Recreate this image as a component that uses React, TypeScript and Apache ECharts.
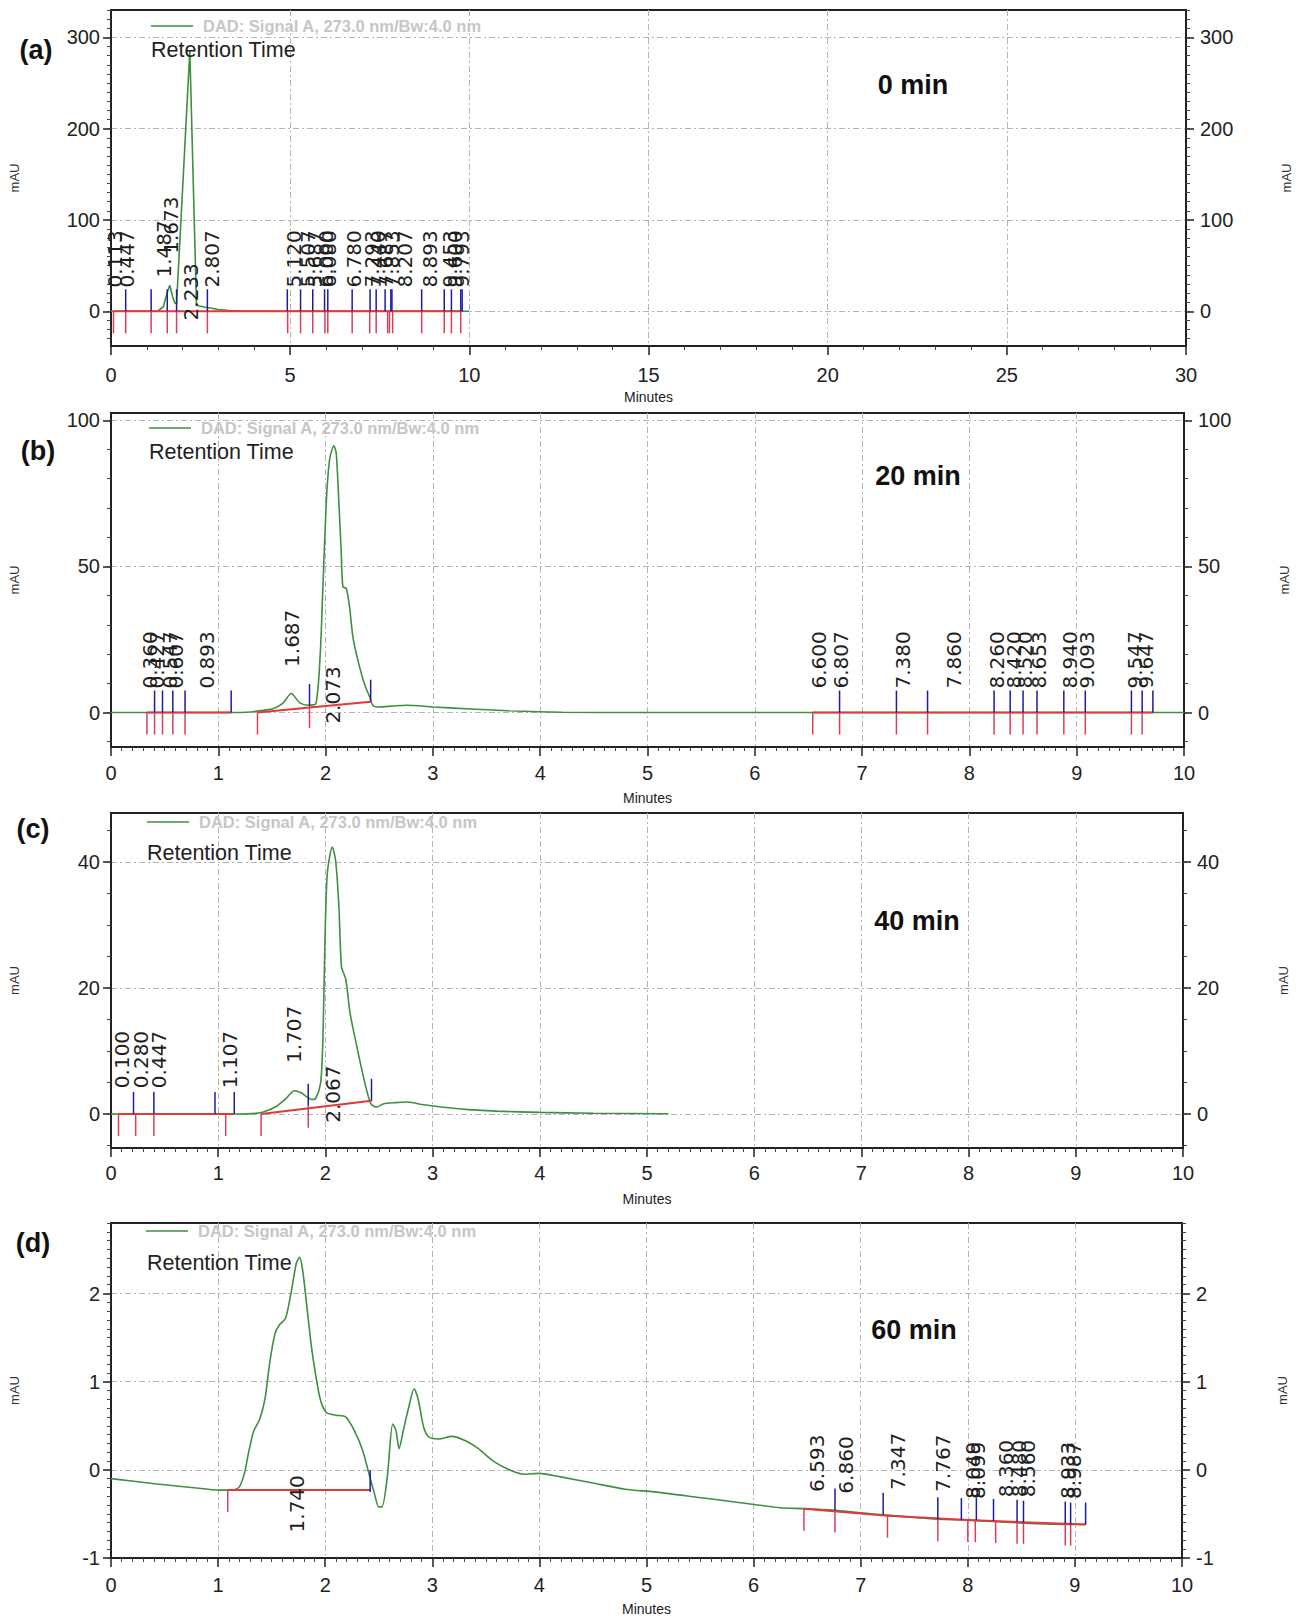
import React, { useEffect, useRef } from "react";
import * as echarts from "echarts";

type P = [number, number];
type Seg = [number, number, number, number];

// ---------- (a) 0 min ----------
const curveA: P[] = [
  [0, 0], [0.5, 0], [1.0, 0], [1.3, 0.3], [1.46, 5], [1.55, 18], [1.64, 28.5], [1.72, 16], [1.78, 9], [1.83, 8.4],
  [2.2, 285], [2.385, 7], [2.44, 6], [2.63, 4.5], [2.81, 3.4], [2.99, 2], [3.3, 0.8], [3.6, 0.2], [4.0, 0], [10.0, 0],
];
const baseA: Seg[] = [[0.07, 0, 9.8, 0]];
const redA: P[] = [
  [0.07, 0], [0.41, 0], [1.12, 0], [1.57, 0], [1.83, 0], [2.69, 0], [4.93, 0], [5.29, 0], [5.63, 0], [5.97, 0], [6.05, 0],
  [6.73, 0], [7.22, 0], [7.4, 0], [7.72, 0], [7.77, 0], [7.86, 0], [8.67, 0], [9.3, 0], [9.5, 0], [9.76, 0],
];
const blueA: P[] = [
  [0.41, 0], [1.12, 0], [1.57, 0], [1.83, 0], [2.69, 0], [4.92, 0], [5.29, 0], [5.63, 0], [5.96, 0], [6.05, 0], [6.73, 0],
  [7.23, 0], [7.4, 0], [7.65, 0], [7.81, 0], [7.84, 0], [8.67, 0], [9.3, 0], [9.5, 0], [9.76, 0], [9.8, 0],
];
const peaksA: string[] = [
  "0.113", "0.447", "1.487", "1.673", "2.233", "2.807", "5.120", "5.507", "5.687", "6.000", "6.080",
  "6.780", "7.293", "7.440", "7.687", "7.853", "8.207", "8.893", "9.453", "9.600", "9.793",
];
const peakBottomA: number[] = [26, 26, 37, 63, -10, 26, 26, 26, 26, 26, 26, 26, 26, 26, 26, 26, 26, 26, 26, 26, 26];

// ---------- (b) 20 min ----------
const curveB: P[] = [
  [0, 0], [0.6, 0], [1.1, 0], [1.3, 0.2], [1.42, 0.8], [1.51, 1.3], [1.6, 3.1], [1.68, 6.5], [1.76, 3.3], [1.84, 2.5],
  [1.91, 3.1], [1.95, 20], [1.975, 43], [2.006, 71.6], [2.037, 86.5], [2.077, 91.3], [2.099, 88.8], [2.124, 71.6],
  [2.146, 54.5], [2.161, 43], [2.192, 42.5], [2.223, 36.2], [2.254, 26], [2.3, 18], [2.36, 10], [2.41, 5.4], [2.44, 2.5],
  [2.5, 1.9], [2.62, 2.2], [2.75, 2.5], [3.0, 1.9], [3.31, 1.3], [3.7, 0.6], [4.2, 0.1], [5.0, 0], [10.0, 0],
];
const baseB: Seg[] = [[0.335, 0, 1.12, 0], [1.365, 0, 2.42, 3.7], [6.54, 0, 9.71, 0]];
const redB: P[] = [
  [0.335, 0], [0.406, 0], [0.48, 0], [0.576, 0], [0.69, 0], [1.365, 0], [1.85, 2.2], [6.54, 0], [6.79, 0], [7.32, 0],
  [7.61, 0], [8.23, 0], [8.38, 0], [8.5, 0], [8.63, 0], [8.88, 0], [9.08, 0], [9.51, 0], [9.61, 0],
];
const blueB: P[] = [
  [0.406, 0], [0.48, 0], [0.576, 0], [0.69, 0], [1.12, 0], [1.85, 2.2], [2.42, 3.7], [6.79, 0], [7.32, 0], [7.61, 0],
  [8.23, 0], [8.38, 0], [8.5, 0], [8.63, 0], [8.88, 0], [9.08, 0], [9.51, 0], [9.61, 0], [9.71, 0],
];
const peaksB: string[] = [
  "0.360", "0.427", "0.547", "0.607", "0.893", "1.687", "2.073", "6.600", "6.807", "7.380", "7.860",
  "8.260", "8.420", "8.520", "8.653", "8.940", "9.093", "9.547", "9.647",
];
const peakBottomB: number[] = [8.2, 8.2, 8.2, 8.2, 8.2, 15.6, -3.8, 8.2, 8.2, 8.2, 8.2, 8.2, 8.2, 8.2, 8.2, 8.2, 8.2, 8.2, 8.2];

// ---------- (c) 40 min ----------
const curveC: P[] = [
  [0, 0], [0.6, 0], [1.2, 0], [1.35, 0.1], [1.42, 0.3], [1.54, 1.2], [1.63, 2.4], [1.71, 3.7], [1.77, 3.4], [1.82, 2.8],
  [1.87, 2.3], [1.91, 2.5], [1.956, 5], [1.977, 12], [1.996, 27.7], [2.018, 38.2], [2.064, 42.4], [2.095, 40.3],
  [2.126, 33], [2.15, 23.4], [2.19, 21.4], [2.23, 16], [2.28, 11.8], [2.34, 7], [2.4, 2.8], [2.43, 1.5], [2.48, 1.1],
  [2.54, 1.6], [2.65, 1.8], [2.77, 1.9], [2.9, 1.5], [3.08, 1.1], [3.33, 0.7], [3.6, 0.45], [4.0, 0.25], [4.5, 0.12], [5.2, 0.05],
];
const baseC: Seg[] = [[0.07, 0, 1.15, 0], [1.4, 0, 2.43, 2.1]];
const redC: P[] = [[0.07, 0], [0.23, 0], [0.4, 0], [1.07, 0], [1.4, 0], [1.84, 1.3]];
const blueC: P[] = [[0.21, 0], [0.4, 0], [0.97, 0], [1.15, 0], [1.84, 1.3], [2.43, 2.1]];
const peaksC: string[] = ["0.100", "0.280", "0.447", "1.107", "1.707", "2.067"];
const peakBottomC: number[] = [4.1, 4.1, 4.1, 4.1, 8.1, -1.4];

// ---------- (d) 60 min ----------
const curveD: P[] = [
  [0, -0.1], [0.43, -0.16], [0.75, -0.2], [1.02, -0.23], [1.14, -0.23], [1.2, -0.19], [1.25, -0.02], [1.28, 0.17],
  [1.33, 0.43], [1.39, 0.58], [1.44, 0.82], [1.48, 1.2], [1.53, 1.54], [1.57, 1.64], [1.63, 1.72], [1.68, 2.0],
  [1.73, 2.34], [1.76, 2.41], [1.79, 2.26], [1.84, 1.73], [1.88, 1.32], [1.95, 0.82], [2.01, 0.65], [2.1, 0.62],
  [2.19, 0.6], [2.27, 0.45], [2.35, 0.22], [2.41, -0.05], [2.46, -0.27], [2.5, -0.42], [2.53, -0.42], [2.58, -0.08],
  [2.63, 0.52], [2.66, 0.45], [2.69, 0.24], [2.73, 0.45], [2.78, 0.71], [2.83, 0.92], [2.87, 0.79], [2.92, 0.48],
  [2.97, 0.37], [3.06, 0.35], [3.18, 0.38], [3.31, 0.33], [3.43, 0.24], [3.58, 0.09], [3.74, -0.01], [3.86, -0.05],
  [4.0, -0.04], [4.2, -0.08], [4.5, -0.15], [4.8, -0.22], [5.07, -0.25], [5.47, -0.31], [5.86, -0.37], [6.25, -0.43],
  [6.47, -0.44], [6.76, -0.46], [7.03, -0.49], [7.21, -0.51], [7.5, -0.54], [7.72, -0.56], [8.0, -0.57], [8.46, -0.6],
  [8.96, -0.62], [9.1, -0.62],
];
const baseD: Seg[] = [[1.09, -0.23, 2.42, -0.23], [6.47, -0.44, 7.25, -0.52], [7.25, -0.52, 8.0, -0.57], [8.0, -0.57, 9.1, -0.62]];
const redD: P[] = [
  [1.09, -0.23], [6.47, -0.44], [6.76, -0.46], [7.25, -0.52], [7.72, -0.56], [8.0, -0.57], [8.07, -0.57],
  [8.26, -0.58], [8.46, -0.59], [8.52, -0.59], [8.91, -0.61], [8.96, -0.61],
];
const blueD: P[] = [
  [2.42, -0.25], [6.76, -0.46], [7.21, -0.51], [7.72, -0.56], [7.94, -0.57], [8.08, -0.57], [8.24, -0.58],
  [8.46, -0.59], [8.52, -0.6], [8.91, -0.61], [8.96, -0.62], [9.1, -0.62],
];
const peaksD: string[] = ["1.740", "6.593", "6.860", "7.347", "7.767", "8.049", "8.099", "8.360", "8.480", "8.560", "8.933", "8.987"];
const peakBottomD: number[] = [-0.71, -0.25, -0.27, -0.23, -0.25, -0.33, -0.33, -0.31, -0.31, -0.31, -0.33, -0.33];

// ---------- axes ----------
const panelTitles = ["(a)", "(b)", "(c)", "(d)"];
const timeLabels = ["0 min", "20 min", "40 min", "60 min"];
const xMaxs = [30, 10, 10, 10];
const xIntervals = [5, 1, 1, 1];
const xMinorSplits = [5, 10, 10, 10];
const yMins = [-38, -11.8, -5.4, -1];
const yMaxs = [330, 102.5, 47.8, 2.8];
const yMajorTicks = [[0, 100, 200, 300], [0, 50, 100], [0, 20, 40], [-1, 0, 1, 2]];
const yMinorSteps = [10, 10, 5, 0.1];
const legendText = "DAD: Signal A, 273.0 nm/Bw:4.0 nm";
const xName = "Minutes";
const yName = "mAU";

const panels = [
  { curve: curveA, base: baseA, red: redA, blue: blueA, peaks: peaksA, bottoms: peakBottomA },
  { curve: curveB, base: baseB, red: redB, blue: blueB, peaks: peaksB, bottoms: peakBottomB },
  { curve: curveC, base: baseC, red: redC, blue: blueC, peaks: peaksC, bottoms: peakBottomC },
  { curve: curveD, base: baseD, red: redD, blue: blueD, peaks: peaksD, bottoms: peakBottomD },
];

// ---------- layout (pixels) ----------
const GRIDS = [
  { left: 109, top: 10, width: 1077, height: 336 },
  { left: 107, top: 413, width: 1077, height: 334 },
  { left: 104, top: 813, width: 1079, height: 335 },
  { left: 103, top: 1223, width: 1079, height: 335 },
];
const X_LABEL_MARGIN = [19, 16, 15, 17];
const LEGEND_Y = [26, 428, 822, 1231];
const LEGEND_X = [151, 149, 147, 146];
const RT_POS = [[151, 50], [149, 452], [147, 853], [147, 1263]];
const PANEL_POS = [[36, 50], [38, 451], [33, 829], [33, 1243]];
const TIME_POS = [[913, 85], [918, 476], [917, 921], [914, 1330]];

const GREEN = "#3f8f3f";
const RED = "#e2383a";
const RED_TICK = "#d8405a";
const BLUE = "#1c1ca0";
const GRID_LINE = { color: "#b4b4b4", width: 1, type: [6, 3, 2, 3] as any };
const AXIS_COLOR = "#222";
const TICK_LEN = 22;

function steps(a: number, b: number, step: number): number[] {
  const out: number[] = [];
  const n = Math.floor((b - a) / step + 1e-6);
  for (let i = 0; i <= n; i++) out.push(+(a + i * step).toFixed(4));
  return out;
}

function buildOption(): any {
  const xAxis: any[] = [];
  const yAxis: any[] = [];
  const series: any[] = [];
  const graphic: any[] = [];

  panels.forEach((p, i) => {
    const majors = yMajorTicks[i];
    const minorStart = Math.ceil(yMins[i] / yMinorSteps[i]) * yMinorSteps[i];
    const minors = steps(minorStart, yMaxs[i], yMinorSteps[i]);
    const labelStyle = { fontSize: 20, color: AXIS_COLOR, fontFamily: "Liberation Sans" };

    xAxis.push({
      gridIndex: i,
      type: "value",
      min: 0,
      max: xMaxs[i],
      interval: xIntervals[i],
      axisLine: { show: true, onZero: false, lineStyle: { color: AXIS_COLOR, width: 2 } },
      axisTick: { show: true, inside: false, length: 9, lineStyle: { color: AXIS_COLOR, width: 1.5 } },
      minorTick: { show: true, splitNumber: xMinorSplits[i], length: 4, lineStyle: { color: "#444", width: 1 } },
      axisLabel: { ...labelStyle, margin: X_LABEL_MARGIN[i] },
      splitLine: { show: true, lineStyle: GRID_LINE },
      name: xName,
      nameLocation: "middle",
      nameGap: 44,
      nameTextStyle: { fontSize: 14, color: "#222", fontFamily: "Liberation Sans" },
    });

    const common = { gridIndex: i, type: "value", min: yMins[i], max: yMaxs[i] };
    yAxis.push({
      ...common,
      position: "left",
      axisLine: { show: true, onZero: false, lineStyle: { color: AXIS_COLOR, width: 2 } },
      axisTick: { show: true, inside: false, length: 8, customValues: majors, lineStyle: { color: AXIS_COLOR, width: 1.5 } },
      axisLabel: { ...labelStyle, margin: 11, customValues: majors },
      splitLine: { show: true, lineStyle: GRID_LINE },
      name: yName,
      nameLocation: "middle",
      nameRotate: 90,
      nameGap: 90,
      nameTextStyle: { fontSize: 13, color: "#333", fontFamily: "Liberation Sans" },
    });
    yAxis.push({
      ...common,
      position: "left",
      axisLine: { show: false },
      axisTick: { show: true, inside: false, length: 4, customValues: minors, lineStyle: { color: "#444", width: 1 } },
      axisLabel: { show: false },
      splitLine: { show: false },
    });
    yAxis.push({
      ...common,
      position: "right",
      axisLine: { show: true, onZero: false, lineStyle: { color: AXIS_COLOR, width: 2 } },
      axisTick: { show: true, inside: false, length: 8, customValues: majors, lineStyle: { color: AXIS_COLOR, width: 1.5 } },
      axisLabel: { ...labelStyle, margin: 14, customValues: majors },
      splitLine: { show: false },
      name: yName,
      nameLocation: "middle",
      nameRotate: 90,
      nameGap: 94,
      nameTextStyle: { fontSize: 13, color: "#333", fontFamily: "Liberation Sans" },
    });
    yAxis.push({
      ...common,
      position: "right",
      axisLine: { show: false },
      axisTick: { show: true, inside: false, length: 4, customValues: minors, lineStyle: { color: "#444", width: 1 } },
      axisLabel: { show: false },
      splitLine: { show: false },
    });

    const yi = i * 4;

    series.push({
      type: "line",
      name: legendText,
      xAxisIndex: i,
      yAxisIndex: yi,
      data: p.curve,
      symbol: "none",
      showSymbol: false,
      smooth: i === 0 ? false : 0.25,
      lineStyle: { color: GREEN, width: 1.6 },
      z: 2,
      silent: true,
    });

    series.push({
      type: "custom",
      xAxisIndex: i,
      yAxisIndex: yi,
      data: p.base,
      encode: { x: [0, 2], y: [1, 3] },
      z: 3,
      silent: true,
      renderItem: (_params: any, api: any) => {
        const a = api.coord([api.value(0), api.value(1)]);
        const b = api.coord([api.value(2), api.value(3)]);
        return {
          type: "line",
          shape: { x1: a[0], y1: a[1], x2: b[0], y2: b[1] },
          style: { stroke: RED, lineWidth: 2 },
        };
      },
    });

    const tickSeries = (data: P[], dir: number, color: string) => ({
      type: "custom",
      xAxisIndex: i,
      yAxisIndex: yi,
      data,
      encode: { x: 0, y: 1 },
      z: 4,
      silent: true,
      renderItem: (_params: any, api: any) => {
        const c = api.coord([api.value(0), api.value(1)]);
        return {
          type: "line",
          shape: { x1: c[0], y1: c[1], x2: c[0], y2: c[1] + dir * TICK_LEN },
          style: { stroke: color, lineWidth: 1.5 },
        };
      },
    });
    series.push(tickSeries(p.red, 1, RED_TICK));
    series.push(tickSeries(p.blue, -1, BLUE));

    const texts = p.peaks;
    series.push({
      type: "custom",
      xAxisIndex: i,
      yAxisIndex: yi,
      data: texts.map((t, k) => [Number(t), p.bottoms[k]]),
      encode: { x: 0, y: 1 },
      z: 5,
      silent: true,
      renderItem: (params: any, api: any) => {
        const c = api.coord([api.value(0), api.value(1)]);
        return {
          type: "text",
          x: c[0],
          y: c[1],
          rotation: Math.PI / 2,
          style: {
            text: texts[params.dataIndex],
            fontSize: 20,
            fontFamily: "DejaVu Sans",
            fill: "#1e1e1e",
            align: "left",
            textAlign: "left",
            verticalAlign: "middle",
            textVerticalAlign: "middle",
          },
        };
      },
    });

    graphic.push({
      type: "line",
      shape: { x1: LEGEND_X[i], y1: LEGEND_Y[i], x2: LEGEND_X[i] + 42, y2: LEGEND_Y[i] },
      style: { stroke: GREEN, lineWidth: 1.6 },
      z: 10,
    });
    graphic.push({
      type: "text",
      x: LEGEND_X[i] + 52,
      y: LEGEND_Y[i],
      style: {
        text: legendText,
        fontSize: 16.5,
        fontWeight: "bold",
        fontFamily: "Liberation Sans",
        fill: "#c6c6c6",
        verticalAlign: "middle",
        textVerticalAlign: "middle",
      },
      z: 10,
    });
    graphic.push({
      type: "text",
      x: RT_POS[i][0],
      y: RT_POS[i][1],
      style: {
        text: "Retention Time",
        fontSize: 21.5,
        fontFamily: "Liberation Sans",
        fill: "#222",
        verticalAlign: "middle",
        textVerticalAlign: "middle",
      },
      z: 10,
    });
    graphic.push({
      type: "text",
      x: PANEL_POS[i][0],
      y: PANEL_POS[i][1],
      style: {
        text: panelTitles[i],
        fontSize: 27,
        fontWeight: "bold",
        fontFamily: "Liberation Sans",
        fill: "#111",
        align: "center",
        textAlign: "center",
        verticalAlign: "middle",
        textVerticalAlign: "middle",
      },
      z: 10,
    });
    graphic.push({
      type: "text",
      x: TIME_POS[i][0],
      y: TIME_POS[i][1],
      style: {
        text: timeLabels[i],
        fontSize: 27,
        fontWeight: "bold",
        fontFamily: "Liberation Sans",
        fill: "#111",
        align: "center",
        textAlign: "center",
        verticalAlign: "middle",
        textVerticalAlign: "middle",
      },
      z: 10,
    });
  });

  return {
    animation: false,
    backgroundColor: "#ffffff",
    grid: GRIDS.map((g) => ({ ...g, show: true, borderColor: "#222", borderWidth: 2, backgroundColor: "transparent" })),
    xAxis,
    yAxis,
    series,
    graphic,
  };
}

export default function App() {
  const ref = useRef<HTMLDivElement>(null);
  useEffect(() => {
    if (!ref.current) return;
    const chart = echarts.init(ref.current, null, { renderer: "svg" });
    chart.setOption(buildOption());
    return () => chart.dispose();
  }, []);
  return (
    <div
      ref={ref}
      style={{ position: "absolute", left: 0, top: 0, width: 1309, height: 1623, background: "#fff" }}
    />
  );
}
